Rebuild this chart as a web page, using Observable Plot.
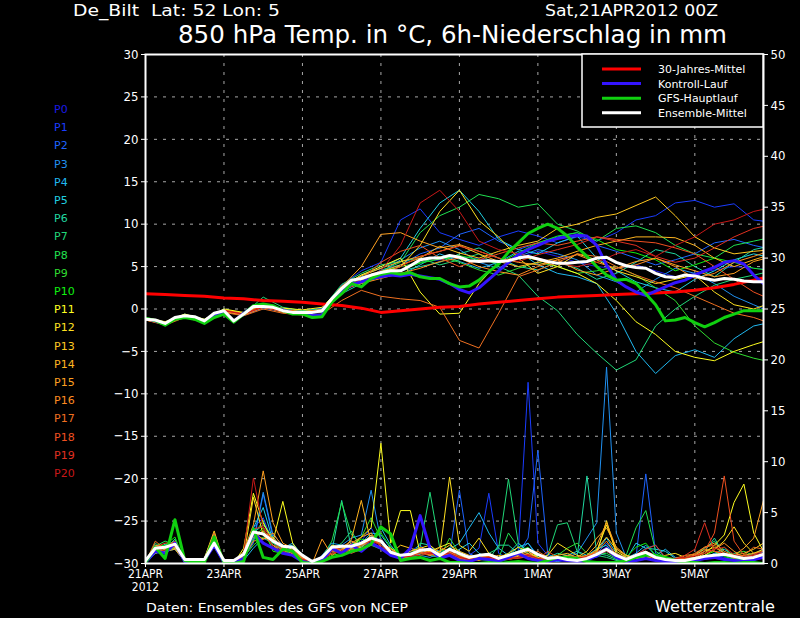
<!DOCTYPE html>
<html><head><meta charset="utf-8">
<script src="https://cdn.jsdelivr.net/npm/d3@7"></script>
<script src="https://cdn.jsdelivr.net/npm/@observablehq/plot@0.6"></script>
<style>html,body{margin:0;padding:0;background:#000;overflow:hidden}svg{display:block}</style>
</head><body><div id="chart"></div>
<script>
// ---------- DATA ----------
const memberNames = ["P0","P1","P2","P3","P4","P5","P6","P7","P8","P9","P10","P11","P12","P13","P14","P15","P16","P17","P18","P19","P20"];
const memberColors = ["#1a1ae6","#1a3cff","#1e64ff","#2090f0","#20b8f0","#20d0e0","#20d8a0","#20d878","#20e050","#30dc30","#10f010","#ffff20","#ffe020","#ffc820","#ffb420","#ffa020","#ff8c20","#f07020","#f05020","#e03020","#c81818"];
const xTickLabels = ["21APR\n2012","23APR","25APR","27APR","29APR","1MAY","3MAY","5MAY"];
const tempTicks = [-30,-25,-20,-15,-10,-5,0,5,10,15,20,25,30];
const precipTicks = [0,5,10,15,20,25,30,35,40,45,50];
const legendLabels = ["30-Jahres-Mittel","Kontroll-Lauf","GFS-Hauptlauf","Ensemble-Mittel"];

// 850 hPa temperature of the members, every 12 h from 21APR 00Z
const memberTemp = [
[-1.2,-1.8,-0.9,-1.3,-0.1,-0.8,0.2,-0.3,-0.6,-0.4,2.2,3.4,4.0,4.6,5.5,5.8,6.2,5.9,5.4,6.0,6.8,6.2,5.5,5.0,4.8,5.2,4.5,3.8,4.2,4.6,5.0,4.8,4.6],
[-1.1,-1.6,-0.7,-1.5,-0.3,-0.5,0.4,0.0,-0.2,0.1,2.8,4.5,5.5,10.5,11.8,9.0,8.2,7.5,8.5,9.2,8.6,7.8,8.5,8.0,9.0,10.5,11.0,12.5,12.8,12.0,12.4,10.5,10.2],
[-1.3,-1.7,-0.9,-1.4,-0.2,-0.7,0.1,-0.3,-0.5,-0.3,2.0,3.2,4.6,5.2,6.5,7.2,8.8,9.5,8.0,7.0,7.8,8.5,9.0,7.5,6.8,6.0,5.2,5.8,6.5,7.8,8.2,7.5,7.0],
[-1.2,-1.5,-0.8,-1.2,-0.4,-0.4,0.5,-0.1,-0.3,0.0,2.6,3.8,4.3,5.8,7.2,8.0,7.0,5.5,4.8,6.2,7.0,6.5,5.8,4.0,3.2,2.0,3.5,4.8,4.2,3.0,1.5,0.5,-0.5],
[-1.2,-1.6,-0.6,-1.3,-0.1,-0.5,0.3,-0.2,-0.6,-0.2,2.4,3.6,4.2,4.0,5.2,6.5,5.6,4.8,5.5,6.8,5.2,4.2,3.8,3.0,-0.5,-5.0,-7.6,-5.5,-4.8,-5.7,-3.5,-2.0,-1.5],
[-1.1,-1.7,-0.8,-1.5,-0.3,-0.6,0.2,-0.1,-0.3,-0.1,2.5,4.0,4.8,6.0,9.5,12.5,14.0,11.5,8.2,7.0,6.5,7.8,8.6,6.0,4.5,3.2,2.5,2.0,3.5,4.5,5.8,6.5,6.0],
[-1.2,-1.8,-0.9,-1.4,-0.3,-0.7,0.3,-0.3,-0.5,-0.4,1.8,3.0,3.8,4.5,5.0,5.5,6.5,7.2,6.0,5.0,4.6,5.5,4.8,3.5,4.2,5.5,7.0,6.5,5.0,3.8,5.5,7.0,7.5],
[-1.3,-1.6,-0.7,-1.3,0.0,-0.6,1.4,0.2,-0.2,0.0,2.9,4.2,5.2,5.6,6.0,5.2,5.8,6.5,5.0,4.0,1.5,-0.2,-3.0,-5.2,-7.2,-6.0,-2.0,0.0,1.5,2.8,3.5,4.0,4.5],
[-1.1,-1.7,-0.8,-1.4,-0.2,-0.5,0.4,-0.1,-0.4,-0.2,2.3,3.5,4.5,5.5,9.0,11.0,12.0,13.5,13.0,12.0,12.4,10.0,9.2,8.0,9.5,9.8,9.0,7.5,6.5,6.0,7.5,8.0,8.5],
[-1.2,-1.6,-0.9,-1.4,-0.1,-0.6,0.5,0.0,-0.4,-0.3,2.1,3.3,4.4,5.0,5.5,6.2,5.5,4.6,4.0,4.8,5.5,5.0,4.2,4.5,5.0,4.0,2.5,1.0,-2.0,-4.0,-5.1,-5.8,-6.3],
[-1.2,-1.7,-0.8,-1.4,-0.2,-0.6,0.3,-0.2,-0.4,-0.2,2.4,3.6,4.3,4.6,5.4,5.9,6.3,5.8,5.4,6.6,7.8,8.6,9.0,8.2,7.0,6.6,5.8,4.5,5.2,6.0,5.5,4.8,4.5],
[-1.0,-1.5,-0.6,-1.2,0.0,-0.4,0.5,0.1,-0.1,0.2,2.6,4.0,5.0,6.0,2.0,-0.6,-0.5,3.0,5.5,6.2,5.8,5.0,4.2,3.0,1.0,-1.5,-3.0,-5.0,-5.7,-6.1,-5.0,-4.2,-3.5],
[-1.2,-1.6,-0.7,-1.3,-0.1,-0.5,0.2,-0.2,-0.3,-0.1,2.0,3.4,4.2,5.0,7.5,11.5,14.0,10.4,8.5,6.0,4.2,5.0,6.5,5.8,4.5,3.8,3.0,3.5,4.0,2.0,0.5,0.0,0.8],
[-1.3,-1.8,-0.9,-1.5,-0.3,-0.7,0.2,-0.3,-0.5,-0.3,2.2,3.3,4.4,5.2,6.0,7.4,6.6,6.0,6.8,7.5,8.0,9.5,10.0,10.8,11.2,12.2,13.2,11.0,8.5,7.2,6.5,6.8,7.0],
[-1.1,-1.6,-0.8,-1.3,-0.2,-0.5,0.4,-0.1,-0.3,-0.1,2.7,3.9,4.8,5.6,6.2,6.8,7.5,6.5,5.6,5.0,5.5,6.0,6.8,7.5,8.0,8.5,8.5,8.4,7.5,6.0,5.0,5.8,6.5],
[-1.2,-1.7,-0.9,-1.4,-0.2,-0.7,0.3,-0.4,-0.6,-0.2,2.6,5.0,8.8,9.0,8.0,7.2,7.6,6.8,6.0,5.5,5.2,5.8,4.6,4.0,4.8,5.6,6.0,5.2,4.5,3.8,4.2,5.6,6.2],
[-1.2,-1.7,-0.8,-1.5,-0.3,-0.6,0.2,-0.2,-0.5,-0.3,2.3,3.0,3.6,4.2,4.8,5.6,6.0,5.0,4.4,4.0,5.0,5.8,6.4,5.5,4.8,5.2,6.0,5.0,3.6,4.2,5.5,6.2,7.0],
[-1.3,-1.9,-1.0,-1.6,-0.4,-0.8,0.0,-0.5,-0.7,-0.6,1.0,2.2,1.5,1.2,1.0,0.2,-3.7,-4.6,-0.5,3.8,4.6,5.5,6.5,6.2,5.0,4.0,3.2,2.5,1.5,0.5,-0.5,-1.0,-1.8],
[-1.2,-1.6,-0.8,-1.3,-0.1,-0.6,0.3,-0.2,-0.4,-0.1,2.4,3.5,5.5,6.8,7.5,6.0,5.0,5.8,6.5,7.2,7.8,7.5,8.0,8.5,8.2,8.0,7.8,7.2,6.5,5.0,3.5,2.0,1.0],
[-1.1,-1.7,-0.9,-1.4,-0.2,-0.6,0.4,-0.1,-0.4,-0.2,2.1,3.2,4.0,5.0,6.2,6.8,7.4,6.8,6.0,5.6,6.4,7.0,7.6,8.5,8.0,7.5,6.2,5.5,6.0,7.2,8.5,9.5,10.0],
[-1.2,-1.8,-0.8,-1.4,-0.2,-0.6,0.2,-0.3,-0.5,-0.2,2.0,3.6,4.5,7.5,12.5,14.0,11.5,8.0,7.0,6.5,6.0,5.4,5.0,5.5,6.5,7.0,6.2,7.5,8.5,10.0,10.5,11.5,12.0]
];

// 6h precipitation (mm) of the members, every 6 h from 21APR 00Z
const memberPrecip = [
[0.2,1.2,1.5,1.8, 0.3,0.2,0.4,2.2, 0.1,0.0,0.8,2.5, 3.0,1.8,1.2,1.0, 0.5,0.0,0.4,1.5, 1.2,2.0,1.5,2.8, 2.0,0.8,0.5,0.8, 1.5,1.2,0.6,1.0, 0.8,0.4,0.6,0.5, 0.2,0.5,0.8,1.2, 0.5,0.3,0.2,0.3, 0.2,0.4,0.8,1.6, 0.5,0.2,0.6,0.8, 0.3,0.2,0.1,0.2, 0.3,0.6,0.8,0.5, 0.4,0.3,0.5,0.8, 0.6],
[0.1,1.5,1.3,2.0, 0.4,0.3,0.5,2.4, 0.2,0.0,1.0,3.5, 4.5,2.0,1.5,1.2, 0.6,0.1,0.6,1.8, 1.5,1.0,2.2,3.5, 1.8,1.0,0.6,1.2, 1.8,1.0,0.8,1.2, 0.6,0.8,1.5,6.9, 1.0,0.5,1.2,17.8, 2.0,0.8,0.4,0.6, 0.3,0.5,0.6,1.2, 0.6,0.4,0.5,0.9, 0.4,0.2,0.3,0.2, 0.2,0.5,1.0,0.6, 0.3,0.5,0.8,1.0, 0.8],
[0.3,1.0,1.8,2.2, 0.2,0.3,0.3,1.8, 0.1,0.1,0.6,2.0, 6.8,2.5,1.0,0.8, 0.4,0.0,0.5,1.2, 1.0,1.6,1.8,2.0, 2.5,1.0,0.4,0.6, 1.0,1.6,0.5,0.9, 7.2,1.0,0.5,0.8, 0.4,0.6,1.0,2.5, 11.1,1.0,0.3,0.5, 0.4,0.6,1.0,2.0, 0.8,0.4,0.6,8.8, 1.0,0.3,0.2,0.3, 0.4,0.6,0.5,0.4, 0.5,0.4,0.6,1.2, 1.0],
[0.2,1.8,1.6,1.6, 0.5,0.4,0.4,2.8, 0.0,0.0,0.5,2.2, 7.0,2.8,1.8,1.3, 0.3,0.0,0.8,2.0, 1.8,2.5,2.8,7.2, 2.2,1.2,0.8,1.0, 0.8,0.6,1.0,1.5, 1.0,0.6,0.8,0.5, 0.3,0.8,1.2,2.0, 0.8,0.4,0.3,0.6, 1.0,2.5,4.0,19.3, 3.0,0.6,0.8,1.5, 1.8,0.5,0.3,0.4, 0.5,0.4,0.6,0.8, 1.0,0.6,0.8,1.5, 1.2],
[0.0,1.0,1.2,1.4, 0.2,0.2,0.3,2.0, 0.1,0.0,0.3,1.5, 2.5,2.0,1.5,2.0, 0.8,0.2,0.3,1.0, 1.2,1.5,2.0,3.0, 2.8,1.5,0.8,0.6, 1.2,0.8,0.6,1.4, 2.0,3.5,5.0,3.0, 1.5,0.8,1.6,2.0, 0.6,0.3,0.2,0.4, 0.3,0.6,1.2,2.5, 1.0,0.5,1.0,1.8, 0.8,1.4,0.6,0.4, 0.3,0.5,0.7,1.0, 0.6,0.4,0.3,0.6, 0.5],
[0.1,1.3,1.9,1.5, 0.3,0.3,0.5,3.0, 0.0,0.0,0.4,3.5, 5.5,2.2,1.6,1.8, 0.9,0.1,0.5,1.6, 1.5,2.2,1.6,2.4, 3.5,1.8,0.6,0.5, 0.9,1.5,1.2,0.8, 1.4,2.0,1.0,0.6, 0.4,1.0,2.0,1.2, 0.4,0.2,0.6,0.8, 1.2,0.8,1.4,1.8, 0.6,0.4,2.0,1.5, 1.4,1.2,0.5,0.3, 0.4,0.6,1.0,1.4, 0.8,0.5,0.6,0.9, 0.7],
[0.2,1.1,1.4,2.4, 0.3,0.1,0.2,2.2, 0.1,0.0,0.6,3.0, 3.8,2.6,1.4,1.0, 0.4,0.0,0.2,1.2, 6.2,1.4,1.2,2.0, 1.6,0.9,0.4,0.7, 2.0,1.8,0.8,1.0, 0.5,0.4,0.6,0.4, 1.8,1.8,1.0,0.8, 0.4,0.6,1.0,0.8, 0.6,8.6,1.0,0.8, 0.4,0.3,0.5,0.6, 0.4,0.2,0.3,0.5, 0.6,1.2,2.5,0.8, 0.5,0.6,1.0,0.7, 0.6],
[0.1,2.0,1.2,1.6, 0.4,0.2,0.3,2.6, 0.1,0.0,0.7,2.8, 4.2,1.6,1.0,1.2, 0.7,0.1,0.4,1.4, 2.0,3.2,1.4,1.8, 1.4,1.2,0.6,1.0, 1.6,7.0,1.5,0.8, 0.9,0.5,0.8,1.0, 1.5,8.3,2.0,1.0, 0.6,0.8,3.8,4.0, 1.2,0.5,0.8,0.6, 0.3,0.2,0.3,0.5, 0.4,0.3,0.2,0.4, 0.8,1.5,2.2,1.0, 0.5,0.3,0.4,0.6, 0.4],
[0.3,1.7,2.2,1.8, 0.2,0.2,0.4,2.4, 0.0,0.1,0.5,2.4, 3.2,1.4,1.8,1.5, 0.5,0.0,0.6,2.2, 6.0,2.8,2.0,2.4, 1.8,1.4,0.7,0.6, 0.8,1.0,0.9,1.2, 0.6,0.3,0.5,0.8, 0.5,3.0,1.6,0.9, 0.5,0.4,0.3,0.5, 0.4,0.6,0.9,1.0, 0.5,0.8,3.5,5.2, 1.2,0.6,0.3,0.2, 0.3,0.5,0.8,1.6, 0.6,0.4,0.5,0.8, 0.6],
[0.2,1.4,1.0,2.0, 0.3,0.4,0.3,1.6, 0.0,0.0,0.6,1.8, 2.6,2.0,1.2,0.8, 0.6,0.1,0.5,1.0, 1.4,1.8,2.6,4.5, 2.4,1.0,0.5,0.9, 1.2,1.4,0.6,2.5, 1.0,0.6,0.5,0.4, 0.2,0.4,0.6,0.8, 0.5,0.4,0.8,1.5, 2.0,1.0,0.8,1.2, 0.6,0.5,0.8,1.2, 0.6,0.4,0.3,0.5, 0.4,0.6,0.8,0.8, 1.0,1.2,0.8,0.6, 0.5],
[0.1,1.6,1.8,2.6, 0.2,0.1,0.2,2.8, 0.0,0.0,0.4,2.6, 3.5,1.2,1.0,1.4, 0.3,0.0,0.3,0.8, 1.0,1.8,2.4,2.2, 3.0,1.6,0.8,0.8, 1.2,0.9,0.6,1.6, 0.4,0.5,0.4,0.3, 0.6,0.9,1.2,1.6, 0.4,0.5,0.6,0.6, 0.5,0.4,1.0,1.4, 0.5,0.6,1.6,2.0, 0.8,0.4,0.2,0.3, 0.5,0.8,1.2,0.7, 0.4,0.5,0.6,0.8, 0.6],
[0.2,1.2,1.6,1.5, 0.5,0.3,0.4,2.0, 0.2,0.0,1.5,6.9, 4.0,2.2,6.1,2.0, 0.6,0.1,0.4,1.2, 1.4,1.6,2.6,3.5, 11.8,2.0,5.2,5.2, 1.0,1.2,1.6,2.0, 0.8,0.5,0.6,0.7, 0.3,0.6,0.8,1.5, 0.6,0.4,0.3,0.5, 0.3,0.5,1.2,3.8, 1.2,0.6,0.8,1.0, 0.5,0.6,0.4,0.3, 0.5,1.0,1.8,2.8, 6.0,7.8,3.0,1.2, 0.8],
[0.1,1.4,1.5,2.0, 0.3,0.2,0.3,2.6, 0.1,0.0,0.6,6.5, 2.8,1.8,1.0,1.6, 0.4,0.0,0.6,1.8, 1.6,1.2,1.8,2.8, 2.0,1.5,0.8,1.2, 1.5,1.8,1.0,8.5, 1.8,1.2,2.5,1.0, 0.6,1.0,1.6,1.2, 0.5,0.8,2.0,1.4, 0.8,0.6,1.0,4.2, 0.9,0.5,0.7,0.9, 0.5,0.8,1.0,0.6, 0.4,0.8,1.4,2.2, 3.6,2.0,1.0,1.4, 1.0],
[0.3,1.0,1.4,1.8, 0.4,0.3,0.5,3.2, 0.1,0.0,0.4,3.0, 2.4,2.6,1.4,1.0, 0.5,0.1,0.5,1.4, 1.8,1.4,1.6,2.6, 1.8,1.0,1.8,1.5, 1.2,0.8,1.2,1.8, 1.2,0.8,0.6,0.5, 0.4,0.8,1.0,0.8, 0.8,0.5,0.4,0.6, 0.4,0.6,1.4,2.6, 1.4,0.8,0.5,0.6, 0.6,0.4,0.3,0.4, 0.6,1.2,1.6,1.0, 0.8,1.0,1.4,2.0, 1.5],
[0.2,1.5,1.2,1.4, 0.2,0.3,0.3,2.2, 0.2,0.1,0.8,2.6, 3.2,2.4,1.6,1.2, 0.8,0.1,0.4,1.6, 1.2,2.4,6.2,2.0, 2.2,1.2,0.6,0.8, 1.0,1.2,0.8,1.4, 0.6,0.4,0.3,0.6, 0.8,0.6,0.8,1.2, 0.4,0.6,0.8,1.0, 0.6,1.2,2.5,3.5, 1.6,0.8,0.6,0.8, 0.4,0.3,0.4,0.6, 0.8,1.4,1.2,0.9, 0.6,0.8,1.0,1.2, 0.9],
[0.3,1.8,1.6,2.2, 0.4,0.2,0.4,2.0, 0.1,0.0,1.2,3.8, 9.1,4.0,2.0,1.5, 0.6,0.0,2.4,0.8, 1.4,2.0,2.6,3.0, 1.6,1.0,0.5,0.7, 1.4,1.0,0.7,1.1, 0.7,0.5,0.4,0.6, 0.3,0.5,0.7,1.0, 0.3,0.5,0.6,0.8, 0.6,0.8,1.8,4.0, 1.5,0.6,0.5,0.8, 0.6,0.4,0.5,0.8, 0.9,1.6,2.0,1.2, 0.8,1.5,2.5,6.2, 2.0],
[0.2,1.2,1.7,1.6, 0.3,0.3,0.4,2.4, 0.1,0.0,0.6,2.2, 2.4,3.0,1.6,0.9, 0.4,0.1,0.6,1.3, 1.6,2.2,1.8,2.6, 2.2,1.0,0.6,0.8, 1.0,0.8,1.6,1.2, 0.5,0.3,0.4,0.5, 0.4,0.6,0.9,0.9, 0.4,0.3,0.5,0.6, 0.4,0.8,1.2,2.2, 0.8,0.4,0.6,1.0, 0.5,0.6,0.4,0.5, 0.8,1.0,1.4,2.0, 1.2,0.6,0.8,1.0, 0.8],
[0.1,2.2,1.4,1.8, 0.3,0.2,0.3,3.0, 0.0,0.0,0.8,3.2, 2.8,1.8,1.4,1.2, 0.5,0.0,0.4,1.0, 1.2,1.4,1.8,2.2, 2.0,1.4,0.8,0.6, 1.6,1.0,0.8,0.9, 0.6,0.4,0.6,0.8, 0.5,0.4,0.6,0.8, 1.2,0.6,0.4,0.3, 0.5,0.6,1.2,1.4, 1.0,0.5,0.8,1.2, 0.8,0.5,0.4,0.6, 1.0,1.6,1.8,1.0, 0.5,0.8,1.6,1.4, 0.9],
[0.2,1.6,2.0,2.0, 0.2,0.3,0.4,2.6, 0.2,0.0,0.5,2.8, 3.0,2.2,1.2,1.4, 0.6,0.1,0.3,1.2, 1.4,1.0,1.4,2.4, 1.8,1.0,0.6,0.8, 1.2,0.9,0.7,1.0, 0.5,0.4,0.5,0.7, 0.5,0.6,0.5,0.7, 0.4,1.2,0.6,0.5, 0.4,0.6,0.8,1.6, 0.6,0.5,0.7,0.9, 0.6,0.4,0.3,0.5, 0.8,1.2,3.0,8.6, 2.2,0.8,0.6,0.9, 0.7],
[0.1,1.3,1.5,2.2, 0.3,0.2,0.3,2.4, 0.1,0.0,0.9,3.4, 3.6,2.2,1.6,1.0, 0.4,0.0,0.5,1.2, 1.6,1.8,1.4,1.8, 2.4,1.1,0.5,0.8, 1.0,1.1,0.8,1.2, 0.7,0.3,0.4,0.6, 0.4,0.5,0.6,0.9, 0.5,0.3,0.4,0.6, 0.5,0.7,1.0,1.6, 0.6,0.4,0.9,1.4, 1.8,0.6,0.4,0.8, 1.4,4.0,1.2,1.0, 0.7,0.6,0.9,1.2, 1.0],
[0.2,1.1,1.3,1.7, 0.3,0.3,0.5,2.2, 0.0,0.0,1.0,8.4, 3.5,1.6,1.2,0.8, 0.4,0.1,0.3,1.0, 1.2,1.6,2.0,2.2, 1.8,1.0,0.6,0.7, 0.8,1.0,0.9,1.0, 0.6,0.4,0.5,0.6, 0.5,0.4,0.6,0.8, 0.5,0.6,0.5,0.7, 0.6,0.6,0.8,1.2, 0.6,0.5,0.7,0.9, 0.4,0.6,0.5,0.6, 0.7,1.0,1.4,1.6, 0.9,0.6,0.8,1.0, 0.8]
];

// Highlighted runs (every 6 h) and the 30-year mean (every 12 h)
const climateTemp = [1.8,1.7,1.6,1.5,1.3,1.2,1.0,0.9,0.8,0.6,0.4,0.1,-0.4,-0.2,0.0,0.2,0.3,0.6,0.8,1.0,1.2,1.4,1.5,1.6,1.7,1.8,1.9,2.0,2.2,2.5,2.9,3.4,3.9];
const controlTemp = [-1.1,-1.4,-1.8,-1.1, -0.9,-1.0,-1.5,-0.8, -0.4,-1.5,-0.5,0.3, 0.5,0.3,-0.1,-0.5, -0.5,-0.8,-0.7,0.9, 2.0,2.9,3.2,3.6, 3.8,4.0,3.9,4.1, 3.9,3.7,3.5,3.0, 2.3,1.9,2.5,3.5, 4.5,5.5,6.4,7.0, 7.5,8.0,8.3,8.5, 8.7,8.6,7.5,5.2, 3.4,2.6,2.0,1.6, 2.1,2.6,3.1,3.4, 4.0,4.5,4.9,5.5, 5.7,5.3,4.0,3.0, 2.5];
const gfsTemp = [-1.1,-1.35,-1.9,-1.2, -1.0,-1.2,-1.7,-1.0, -0.6,-1.55,-0.6,0.4, 0.6,0.4,-0.2,-0.6, -0.6,-1.0,-0.9,0.8, 1.8,3.0,2.6,3.6, 4.1,4.3,4.1,4.3, 3.8,3.6,3.6,3.0, 2.6,2.7,3.4,4.4, 5.3,6.7,7.8,8.9, 9.5,10.0,9.5,8.6, 7.3,6.2,5.0,4.0, 3.4,3.5,3.0,1.8, 0.5,-1.4,-1.3,-1.0, -1.6,-2.1,-1.6,-1.0, -0.6,-0.2,-0.2,-0.2, -0.2];
const meanTemp = [-1.2,-1.3,-1.7,-1.0, -0.8,-0.9,-1.4,-0.5, -0.2,-1.4,-0.6,0.3, 0.3,0.2,-0.2,-0.4, -0.4,-0.4,-0.2,1.2, 2.4,3.4,3.6,4.0, 4.3,4.5,4.5,5.1, 5.8,6.0,6.0,6.3, 6.1,5.7,5.6,5.7, 5.6,5.7,6.0,6.2, 5.9,5.6,5.4,5.4, 5.5,5.6,6.0,6.1, 5.5,5.1,4.9,4.8, 4.2,3.8,3.7,4.0, 3.9,3.6,3.4,3.6, 3.5,3.3,3.2,3.2, 3.2];
const controlPrecip = [0.1,1.2,1.0,2.0, 0.2,0.2,0.3,1.8, 0.1,0.0,0.5,3.0, 2.0,1.5,1.0,0.8, 0.2,0.0,0.3,1.5, 1.0,1.8,1.2,2.0, 1.5,0.8,0.5,1.5, 4.7,1.5,0.5,0.8, 0.3,0.2,0.5,0.4, 0.2,0.6,1.0,0.5, 0.3,0.2,0.4,0.3, 0.2,0.3,0.8,1.5, 0.6,0.2,0.3,0.5, 0.3,0.2,0.1,0.2, 0.3,0.5,0.6,0.4, 0.3,0.2,0.4,0.6, 0.5];
const gfsPrecip = [0.1,1.6,0.5,4.3, 0.3,0.1,0.1,2.6, 0.1,0.0,0.2,3.4, 0.6,0.4,1.4,1.2, 0.1,0.0,0.2,0.6, 0.8,1.2,1.4,1.9, 3.6,2.9,0.3,0.5, 0.6,0.3,0.5,0.1, 0.1,0.0,0.0,0.1, 0.0,0.1,0.2,0.1, 0.0,0.3,0.6,0.6, 0.5,0.2,0.1,0.1, 0.1,0.3,0.6,0.8, 0.8,0.6,0.3,0.1, 0.1,0.0,0.1,0.1, 0.0,0.1,0.1,0.0, 0.0];
const meanPrecip = [0.3,1.5,1.6,1.9, 0.4,0.4,0.4,2.0, 0.3,0.3,0.9,3.1, 2.9,2.2,1.7,1.6, 0.8,0.2,0.6,1.6, 1.7,1.7,2.0,2.5, 2.2,1.1,0.8,0.9, 1.3,1.4,0.8,1.4, 1.0,0.6,0.8,0.9, 0.5,0.8,1.1,1.4, 0.9,0.5,0.6,0.4, 0.3,0.5,0.9,1.4, 0.8,0.4,0.8,1.1, 0.6,0.4,0.3,0.3, 0.5,0.7,0.8,0.9, 0.7,0.5,0.6,0.9, 1.0];

// ---------- BUILD ----------
const START = Date.UTC(2012, 3, 21);
const HOUR = 3600e3;
const END = new Date(START + (15 * 24 + 18) * HOUR);
const xTicks = xTickLabels.map((_, i) => new Date(START + i * 48 * HOUR));
const tickLabel = new Map(xTicks.map((d, i) => [+d, xTickLabels[i]]));
// precipitation shares the vertical extent: 0..50 mm  <->  -30..30 °C
const mmToY = mm => -30 + mm * 60 / 50;
const yToMm = y => Math.round((y + 30) * 50 / 60);

const rows = (vals, stepH, name) => vals.map((v, i) => ({t: new Date(START + i * stepH * HOUR), v, name}));
const memTempRows = memberTemp.flatMap((vals, k) => rows(vals, 12, memberNames[k]));
const memPrecRows = memberPrecip.flatMap((vals, k) => rows(vals.map(mmToY), 6, memberNames[k]));

const thin = {x: "t", y: "v", z: "name", stroke: "name", strokeWidth: 1, clip: true};
const thick = (data, color) => Plot.line(data, {x: "t", y: "v", stroke: color, strokeWidth: 3, clip: true});

const chart = Plot.plot({
  width: 800, height: 618,
  marginLeft: 145, marginRight: 37, marginTop: 54, marginBottom: 55,
  style: {background: "black", color: "white", fontFamily: "'DejaVu Sans Condensed','DejaVu Sans',sans-serif"},
  x: {type: "utc", domain: [new Date(START), END]},
  y: {domain: [-30, 30]},
  color: {domain: memberNames, range: memberColors},
  marks: [
    Plot.gridY(tempTicks.slice(1, -1), {stroke: "#a8a8a8", strokeOpacity: 1, strokeDasharray: "3,6"}),
    Plot.gridX(xTicks.slice(1), {stroke: "#a8a8a8", strokeOpacity: 1, strokeDasharray: "3,6"}),
    Plot.line(memPrecRows, thin),
    Plot.line(memTempRows, thin),
    thick(rows(controlPrecip.map(mmToY), 6, "c"), "#3414ff"),
    thick(rows(gfsPrecip.map(mmToY), 6, "g"), "#10d010"),
    thick(rows(meanPrecip.map(mmToY), 6, "m"), "#ffffff"),
    thick(rows(climateTemp, 12, "k"), "#ff0000"),
    thick(rows(controlTemp, 6, "c"), "#3414ff"),
    thick(rows(gfsTemp, 6, "g"), "#10d010"),
    thick(rows(meanTemp, 6, "m"), "#ffffff"),
    Plot.axisY(tempTicks, {anchor: "left", tickSize: 4, tickPadding: 3, fontSize: 13, label: null}),
    Plot.axisY(precipTicks.map(mmToY), {anchor: "right", tickSize: 4, tickPadding: 3, fontSize: 13, label: null, tickFormat: yToMm}),
    Plot.axisX(xTicks, {anchor: "bottom", tickSize: 4, tickPadding: 2, fontSize: 12, label: null, lineHeight: 1.05, tickFormat: d => tickLabel.get(+d)}),
    Plot.frame({stroke: "white", strokeWidth: 2})
  ]
});
document.getElementById("chart").append(chart);

// ---------- TEXT & LEGEND ----------
const svg = d3.select(chart);
const txt = (x, y, s, size, len, fill = "white", anchor = "start") => {
  const t = svg.append("text").attr("x", x).attr("y", y).attr("fill", fill)
    .attr("font-size", size).attr("text-anchor", anchor).style("white-space", "pre")
    .attr("font-family", "'DejaVu Sans','Liberation Sans',sans-serif").text(s);
  if (len) t.attr("textLength", len).attr("lengthAdjust", "spacingAndGlyphs");
  return t;
};
txt(73, 16, "De_Bilt  Lat: 52 Lon: 5", 15, 207);
txt(545, 16, "Sat,21APR2012 00Z", 15, 173);
txt(178, 43, "850 hPa Temp. in °C, 6h-Niederschlag in mm", 24, 549);
txt(146, 612, "Daten: Ensembles des GFS von NCEP", 13, 262);
txt(655, 612, "Wetterzentrale", 15, 120);
memberNames.forEach((n, i) => txt(54, 113 + i * 18.2, n, 11, null, memberColors[i]));

const lg = svg.append("g");
lg.append("rect").attr("x", 582).attr("y", 54).attr("width", 181).attr("height", 73)
  .attr("fill", "black").attr("stroke", "white").attr("stroke-width", 1.5);
const legendColors = ["#ff0000", "#3414ff", "#10d010", "#ffffff"];
legendLabels.forEach((l, i) => {
  const y = 69 + i * 14.6;
  lg.append("line").attr("x1", 602).attr("x2", 641).attr("y1", y).attr("y2", y)
    .attr("stroke", legendColors[i]).attr("stroke-width", 3);
  txt(658, y + 4, l, 11, null);
});
</script></body></html>
